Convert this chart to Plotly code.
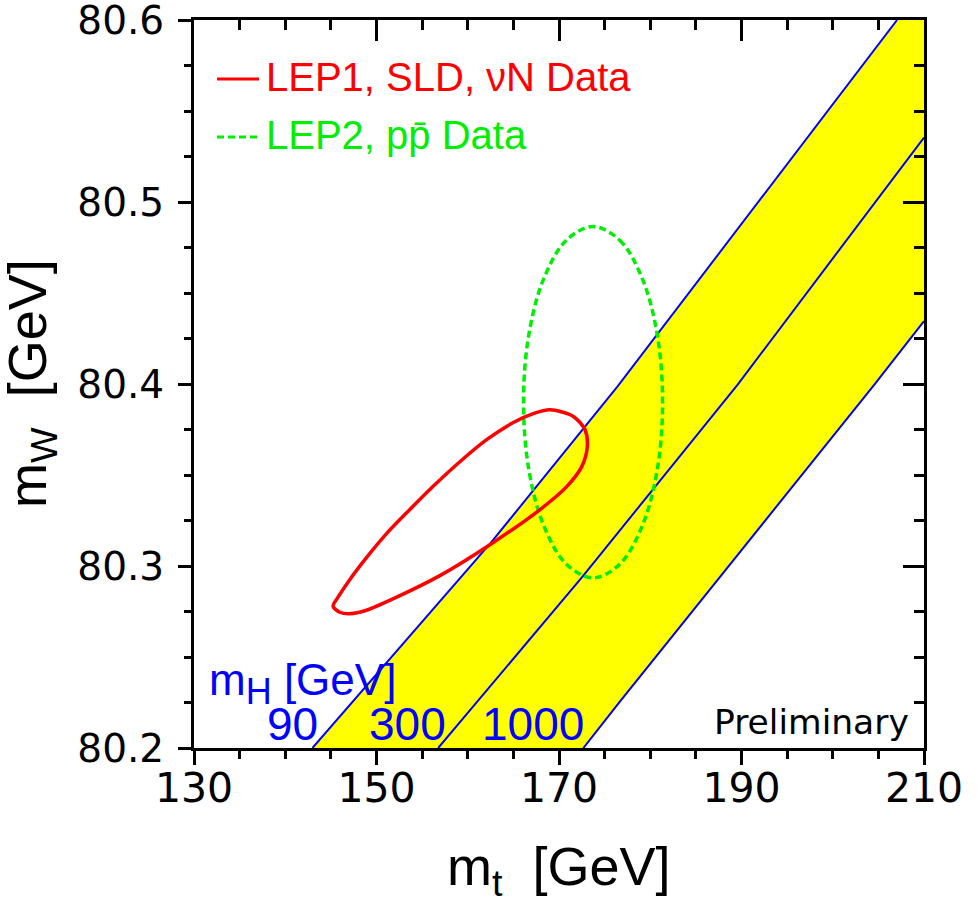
import plotly.graph_objects as go

# ---------------- data ----------------
x_range = [130, 210]
y_range = [80.2, 80.6]

# SM prediction lines for m_H = 90, 300, 1000 GeV  (m_t, m_W)
mh90_mt = [142.98, 162.54, 176.42, 207.05]
mh90_mw = [80.2, 80.3128, 80.3987, 80.6]
mh300_mt = [156.76, 172.60, 189.58, 210.0]
mh300_mw = [80.2, 80.2943, 80.3997, 80.5354]
mh1000_mt = [172.67, 176.69, 204.56, 210.0]
mh1000_mw = [80.2, 80.2256, 80.3997, 80.4345]

# LEP1, SLD, nuN contour
lep1_mt = [145.24, 145.97, 147.07, 148.90, 152.56, 156.94, 162.43, 167.92, 170.84,
           172.49, 173.10, 172.85, 171.57, 169.01, 167.18, 164.99, 162.07, 159.14,
           156.21, 153.65, 151.10, 148.90, 147.07, 145.75, 145.24]
lep1_mw = [80.2778, 80.2746, 80.2738, 80.2757, 80.2837, 80.2947, 80.3117, 80.3310,
           80.3436, 80.3546, 80.3656, 80.3749, 80.3822, 80.3858, 80.3837, 80.3788,
           80.3694, 80.3573, 80.3438, 80.3310, 80.3178, 80.3046, 80.2925, 80.2826,
           80.2778]

# LEP2, ppbar contour
lep2_mt = [173.73, 176.65, 179.12, 180.77, 181.35, 180.77, 179.12, 176.65, 173.73,
           170.81, 168.34, 166.69, 166.11, 166.69, 168.34, 170.81, 173.73]
lep2_mw = [80.4865, 80.479, 80.458, 80.427, 80.39, 80.353, 80.322, 80.301, 80.2935,
           80.301, 80.322, 80.353, 80.39, 80.427, 80.458, 80.479, 80.4865]

x_tickvals = [130, 150, 170, 190, 210]
y_tickvals = [80.2, 80.3, 80.4, 80.5, 80.6]
mh_labels = ["90", "300", "1000"]

# ---------------- figure ----------------
W, H = 977, 908
ML, MR, MT, MB = 194, 53, 20, 160
PW, PH = W - ML - MR, H - MT - MB


def px(xp):
    return (xp - ML) / PW


def py(yp):
    return (H - MB - yp) / PH


fig = go.Figure()

# yellow band between m_H = 90 and m_H = 1000
band_x = mh90_mt + [x_range[1]] + mh1000_mt[::-1]
band_y = mh90_mw + [y_range[1]] + mh1000_mw[::-1]
fig.add_trace(go.Scatter(x=band_x, y=band_y, fill="toself", fillcolor="#ffff00",
                         mode="lines", line=dict(width=0, color="#ffff00"),
                         hoverinfo="skip", showlegend=False))

for xs, ys in [(mh90_mt, mh90_mw), (mh300_mt, mh300_mw), (mh1000_mt, mh1000_mw)]:
    fig.add_trace(go.Scatter(x=xs, y=ys, mode="lines",
                             line=dict(color="#0000ff", width=2),
                             showlegend=False))

fig.add_trace(go.Scatter(x=lep2_mt, y=lep2_mw, mode="lines",
                         line=dict(color="#00ee00", width=3.5, dash="7px,4px",
                                   shape="spline", smoothing=1.0),
                         showlegend=False))
fig.add_trace(go.Scatter(x=lep1_mt, y=lep1_mw, mode="lines",
                         line=dict(color="#ff0000", width=3.5, shape="spline", smoothing=0.8),
                         showlegend=False))

# invisible trace to activate mirrored (inside-tick) axes
fig.add_trace(go.Scatter(x=x_range, y=y_range, xaxis="x2", yaxis="y2", mode="lines",
                         line=dict(width=0), hoverinfo="skip", showlegend=False))

tickfont_y = dict(family="DejaVu Sans", size=39, color="black")
tickfont_x = dict(family="DejaVu Sans", size=41, color="black")

fig.update_layout(
    width=W, height=H,
    margin=dict(l=ML, r=MR, t=MT, b=MB, autoexpand=False),
    paper_bgcolor="white", plot_bgcolor="white",
    showlegend=False,
    xaxis=dict(range=x_range, tickvals=x_tickvals, ticktext=[str(v) for v in x_tickvals],
               ticks="outside", ticklen=14, tickwidth=2.5, tickcolor="black",
               minor=dict(dtick=5, tick0=130, ticks="outside", ticklen=8, tickwidth=2.5,
                          tickcolor="black"),
               showline=True, linewidth=3, linecolor="black", mirror=True,
               showgrid=False, zeroline=False, tickfont=tickfont_x, ticklabelstandoff=-12,
               ticklabeloverflow="allow", automargin=False),
    yaxis=dict(range=y_range, tickvals=y_tickvals, ticktext=[f"{v:.1f}" for v in y_tickvals],
               ticks="outside", ticklen=13, tickwidth=2.5, tickcolor="black",
               minor=dict(dtick=0.025, tick0=80.2, ticks="outside", ticklen=7, tickwidth=2.5,
                          tickcolor="black"),
               showline=True, linewidth=3, linecolor="black", mirror=True,
               showgrid=False, zeroline=False, tickfont=tickfont_y, ticklabelstandoff=6,
               ticklabeloverflow="allow", automargin=False),
    xaxis2=dict(range=x_range, overlaying="x", side="top", tickvals=x_tickvals,
                ticks="inside", ticklen=21, tickwidth=2.5, tickcolor="black",
                minor=dict(dtick=5, tick0=130, ticks="inside", ticklen=10, tickwidth=2.5,
                           tickcolor="black"),
                showticklabels=False, showline=False, showgrid=False, zeroline=False,
                automargin=False),
    yaxis2=dict(range=y_range, overlaying="y", side="right", tickvals=y_tickvals,
                ticks="inside", ticklen=21, tickwidth=2.5, tickcolor="black",
                minor=dict(dtick=0.025, tick0=80.2, ticks="inside", ticklen=10, tickwidth=2.5,
                           tickcolor="black"),
                showticklabels=False, showline=False, showgrid=False, zeroline=False,
                automargin=False),
)

ann = []
title_font = dict(family="Liberation Sans", size=54, color="black")
ann.append(dict(text="m<sub>t</sub>  [GeV]", x=0.5, y=py(870), xref="paper", yref="paper",
                xanchor="center", yanchor="middle", showarrow=False, font=title_font))
ann.append(dict(text="m<sub>W</sub>  [GeV]", x=px(31), y=0.5, xref="paper", yref="paper",
                xanchor="center", yanchor="middle", textangle=-90, showarrow=False,
                font=title_font))

# legend (drawn inside the frame)
leg_font = dict(family="Liberation Sans", size=40)
fig.add_shape(type="line", xref="paper", yref="paper", x0=px(217), x1=px(259), y0=py(79), y1=py(79),
              line=dict(color="#ff0000", width=3))
fig.add_shape(type="line", xref="paper", yref="paper", x0=px(217), x1=px(259), y0=py(137), y1=py(137),
              line=dict(color="#00ee00", width=3, dash="7px,4px"))
ann.append(dict(text="LEP1, SLD, νN Data", x=px(264), y=py(77), xref="paper", yref="paper",
                xanchor="left", yanchor="middle", showarrow=False,
                font=dict(leg_font, color="#ff0000")))
ann.append(dict(text="LEP2, pp\u0304 Data", x=px(264), y=py(135), xref="paper", yref="paper",
                xanchor="left", yanchor="middle", showarrow=False,
                font=dict(leg_font, color="#00ee00")))

# m_H labels
ann.append(dict(text="m<sub><span style=\"font-size:36px\">H</span></sub> [GeV]",
                x=px(207), y=py(683), xref="paper", yref="paper",
                xanchor="left", yanchor="middle", showarrow=False,
                font=dict(family="Liberation Sans", size=44, color="#0000ff")))
for lab, xl in zip(mh_labels, [265, 367, 480]):
    ann.append(dict(text=lab, x=px(xl), y=py(724), xref="paper", yref="paper",
                    xanchor="left", yanchor="middle", showarrow=False,
                    font=dict(family="Liberation Sans", size=46, color="#0000ff")))

ann.append(dict(text="Preliminary", x=px(911), y=py(722), xref="paper", yref="paper",
                xanchor="right", yanchor="middle", showarrow=False,
                font=dict(family="DejaVu Sans", size=34.5, color="black")))

fig.update_layout(annotations=ann)
fig.write_html("out.html", config={"displayModeBar": False},
               post_script="document.body.style.margin='0';document.body.style.padding='0';")
